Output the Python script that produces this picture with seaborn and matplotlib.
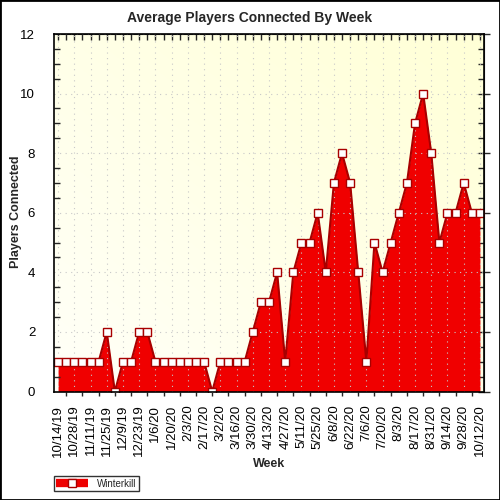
import matplotlib
matplotlib.use("Agg")
import matplotlib.pyplot as plt
import numpy as np
import seaborn as sns
from matplotlib.lines import Line2D
from matplotlib.patches import Rectangle
from matplotlib.ticker import MultipleLocator, NullLocator

# ---- data ----
week_index = list(range(53))
players = [1, 1, 1, 1, 1, 1, 2, 0, 1, 1, 2, 2, 1, 1, 1, 1, 1, 1, 1, 0,
           1, 1, 1, 1, 2, 3, 3, 4, 1, 4, 5, 5, 6, 4, 7, 8, 7, 4, 1, 5,
           4, 5, 6, 7, 9, 10, 8, 5, 6, 6, 7, 6, 6]
tick_labels = ["10/14/19", "10/28/19", "11/11/19", "11/25/19", "12/9/19", "12/23/19",
               "1/6/20", "1/20/20", "2/3/20", "2/17/20", "3/2/20", "3/16/20",
               "3/30/20", "4/13/20", "4/27/20", "5/11/20", "5/25/20", "6/8/20",
               "6/22/20", "7/6/20", "7/20/20", "8/3/20", "8/17/20", "8/31/20",
               "9/14/20", "9/28/20", "10/12/20"]
series_name = "Winterkill"

sns.set_style("white")
plt.rcParams["font.family"] = ["Liberation Sans", "DejaVu Sans"]

fig = plt.figure(figsize=(5, 5), dpi=100)
ax = fig.add_axes([54/500, 1 - 391.5/500, 430/500, (391.5 - 34)/500])

# background gradient (whitish bottom-left to light yellow top-right)
gx, gy = np.meshgrid(np.linspace(0, 1, 200), np.linspace(0, 1, 200))
t = (gx + gy) / 2
c0 = np.array([1.0, 1.0, 0.975])
c1 = np.array([1.0, 1.0, 0.84])
img = c0[None, None, :] * (1 - t[..., None]) + c1[None, None, :] * t[..., None]
ax.imshow(img, extent=[0, 1, 0, 1], transform=ax.transAxes, origin="lower",
          aspect="auto", zorder=0, interpolation="bilinear")

ax.fill_between(week_index, players, 0, color="#F00000", lw=0, zorder=2)
sns.lineplot(x=week_index, y=players, ax=ax, color="#A80000", lw=1.5,
             marker="s", markersize=5.5, markerfacecolor="white",
             markeredgecolor="#A80000", markeredgewidth=1.0, zorder=3)

ax.set_xlim(-0.5, 52.5)
ax.set_ylim(0, 12)

ax.set_xticks(week_index[::2])
ax.set_xticklabels(tick_labels, rotation=90, fontsize=9.5)
ax.xaxis.set_minor_locator(MultipleLocator(1))
ax.set_yticks([0, 2, 4, 6, 8, 10, 12])
ax.yaxis.set_minor_locator(MultipleLocator(0.5))
ax.tick_params(axis="y", which="major", direction="inout", length=9, width=1,
               labelsize=9.5, pad=9, colors="black")
ax.tick_params(axis="y", which="minor", direction="in", length=4, width=1, left=True)
ax.tick_params(axis="x", which="major", direction="inout", length=9, width=1,
               pad=5, colors="black")
ax.tick_params(axis="x", which="minor", direction="out", length=3, width=1, bottom=True)

# right & top ticks
sec_y = ax.secondary_yaxis("right")
sec_y.set_yticks([0, 2, 4, 6, 8, 10, 12])
sec_y.yaxis.set_minor_locator(MultipleLocator(0.5))
sec_y.tick_params(which="major", direction="inout", length=9, width=1, labelright=False)
sec_y.tick_params(which="minor", direction="in", length=4, width=1)
sec_x = ax.secondary_xaxis("top")
sec_x.set_xticks(week_index)
sec_x.xaxis.set_minor_locator(NullLocator())
sec_x.tick_params(which="major", direction="in", length=4, width=1, labeltop=False)

ax.grid(axis="x", which="major", color="#C8C8C8", lw=0.8, ls=(0, (1, 4)), zorder=1)
ax.grid(axis="y", which="major", color="#C8C8C8", lw=0.8, ls=(0, (1, 4)), zorder=1)
ax.set_axisbelow(False)
for s in ax.spines.values():
    s.set_color("black")
    s.set_linewidth(1.2)
    s.set_zorder(5)
ax.set_xlabel("")
ax.set_ylabel("")

fig.text(0.5, 1 - 18/500, "Average Players Connected By Week", ha="center", va="center",
         fontsize=10, fontweight="bold")
fig.text(16/500, 1 - 212/500, "Players Connected", ha="center", va="center",
         rotation=90, fontsize=9, fontweight="bold")
fig.text(269/500, 1 - 464/500, "Week", ha="center", va="center",
         fontsize=9, fontweight="bold")

handle = Line2D([0], [0], color="#EE0000", lw=6, marker="s", markersize=5.5,
                markerfacecolor="white", markeredgecolor="#A80000",
                solid_capstyle="butt")
leg = fig.legend([handle], [series_name], loc="lower left",
                 bbox_to_anchor=(54/500, 9/500), frameon=True, fancybox=False,
                 fontsize=7, handlelength=3.2, borderpad=0.25, handletextpad=1.0,
                 borderaxespad=0)
leg.get_frame().set_edgecolor("black")
leg.get_frame().set_linewidth(1.0)

fig.patches.append(Rectangle((0, 0), 1, 1, transform=fig.transFigure, fill=False,
                             edgecolor="black", lw=2, zorder=10))

fig.savefig("out.png", dpi=100)
